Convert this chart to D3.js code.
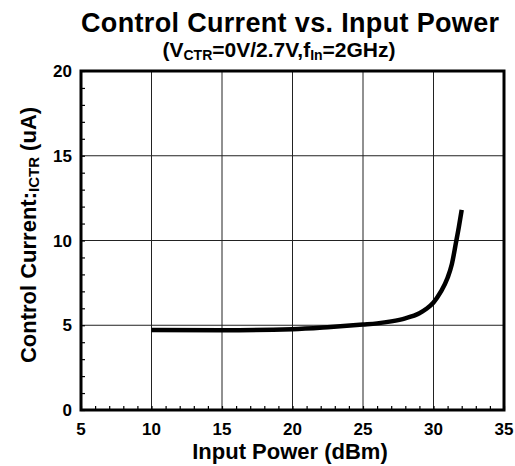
<!DOCTYPE html>
<html>
<head>
<meta charset="utf-8">
<script src="https://cdn.jsdelivr.net/npm/d3@7"></script>
<style>
  body { margin: 0; background: #fff; }
  text { font-family: "Liberation Sans", Arial, sans-serif; font-weight: bold; fill: #000; }
</style>
</head>
<body>
<svg id="chart" width="515" height="466"></svg>
<script>
"use strict";

// values
const input_power = [10, 15, 20, 22.7, 25, 26, 27, 28, 29, 29.5, 30, 30.5, 31, 31.3, 31.6, 31.8, 32]
const ctrl_current = [4.72, 4.71, 4.77, 4.9, 5.04, 5.11, 5.23, 5.41, 5.71, 5.97, 6.34, 6.95, 7.8, 8.6, 9.9, 10.8, 11.8]
const x_ticks = [5, 10, 15, 20, 25, 30, 35]
const y_ticks = [0, 5, 10, 15, 20]

const margin = { left: 81, right: 11, top: 71, bottom: 56 }
const width = 515
const height = 466

const x = d3.scaleLinear().domain([5, 35]).range([margin.left, width - margin.right])
const y = d3.scaleLinear().domain([0, 20]).range([height - margin.bottom, margin.top])

let svg = d3.select('#chart')

// grid
svg.append('g')
   .selectAll('line')
   .data(x_ticks.slice(1, -1))
   .enter().append('line')
      .attr('x1', d => x(d)).attr('x2', d => x(d))
      .attr('y1', y(0)).attr('y2', y(20))
      .attr('stroke', '#222').attr('stroke-width', 1)
svg.append('g')
   .selectAll('line')
   .data(y_ticks.slice(1, -1))
   .enter().append('line')
      .attr('y1', d => y(d)).attr('y2', d => y(d))
      .attr('x1', x(5)).attr('x2', x(35))
      .attr('stroke', '#222').attr('stroke-width', 1)

// minor ticks, pointing inward
svg.append('g')
   .attr('transform', `translate(0,${y(0)})`)
   .call(d3.axisTop(x).ticks(30).tickSize(4).tickFormat(''))
   .call(g => g.select('.domain').remove())
   .selectAll('line').attr('stroke', '#000').attr('stroke-width', 1.2)
svg.append('g')
   .attr('transform', `translate(${x(5)},0)`)
   .call(d3.axisRight(y).ticks(20).tickSize(4).tickFormat(''))
   .call(g => g.select('.domain').remove())
   .selectAll('line').attr('stroke', '#000').attr('stroke-width', 1.2)

// tick labels
svg.append('g')
   .selectAll('text')
   .data(x_ticks)
   .enter().append('text')
      .attr('x', d => x(d))
      .attr('y', 435)
      .attr('text-anchor', 'middle')
      .style('font-size', '17px')
      .text(d => d)
svg.append('g')
   .selectAll('text')
   .data(y_ticks)
   .enter().append('text')
      .attr('x', 72)
      .attr('y', d => y(d) + 6)
      .attr('text-anchor', 'end')
      .style('font-size', '17px')
      .text(d => d)

// curve
const line = d3.line()
   .x((d, i) => x(input_power[i]))
   .y(d => y(d))
   .curve(d3.curveMonotoneX)
svg.append('path')
   .datum(ctrl_current)
   .attr('fill', 'none')
   .attr('stroke', '#000')
   .attr('stroke-width', 4.5)
   .attr('d', line)

// frame
svg.append('rect')
   .attr('x', x(5)).attr('y', y(20))
   .attr('width', x(35) - x(5)).attr('height', y(0) - y(20))
   .attr('fill', 'none').attr('stroke', '#000').attr('stroke-width', 3)

// titles
svg.append('text')
   .attr('x', 290).attr('y', 32)
   .attr('text-anchor', 'middle')
   .style('font-size', '27px')
   .attr('textLength', 418)
   .text('Control Current vs. Input Power')

let sub = svg.append('text')
   .attr('x', 279).attr('y', 57)
   .attr('text-anchor', 'middle')
   .style('font-size', '21px')
sub.append('tspan').text('(V')
sub.append('tspan').attr('dy', 3).style('font-size', '14px').text('CTR')
sub.append('tspan').attr('dy', -3).text('=0V/2.7V,f')
sub.append('tspan').attr('dy', 3).style('font-size', '14px').text('In')
sub.append('tspan').attr('dy', -3).text('=2GHz)')

svg.append('text')
   .attr('x', 290).attr('y', 459)
   .attr('text-anchor', 'middle')
   .style('font-size', '22px')
   .text('Input Power (dBm)')

let ytitle = svg.append('text')
   .attr('transform', 'translate(36,235) rotate(-90)')
   .attr('text-anchor', 'middle')
   .style('font-size', '22px')
ytitle.append('tspan').text('Control Current:')
ytitle.append('tspan').attr('dy', 3).style('font-size', '15px').text('ICTR')
ytitle.append('tspan').attr('dy', -3).text(' (uA)')
</script>
</body>
</html>
